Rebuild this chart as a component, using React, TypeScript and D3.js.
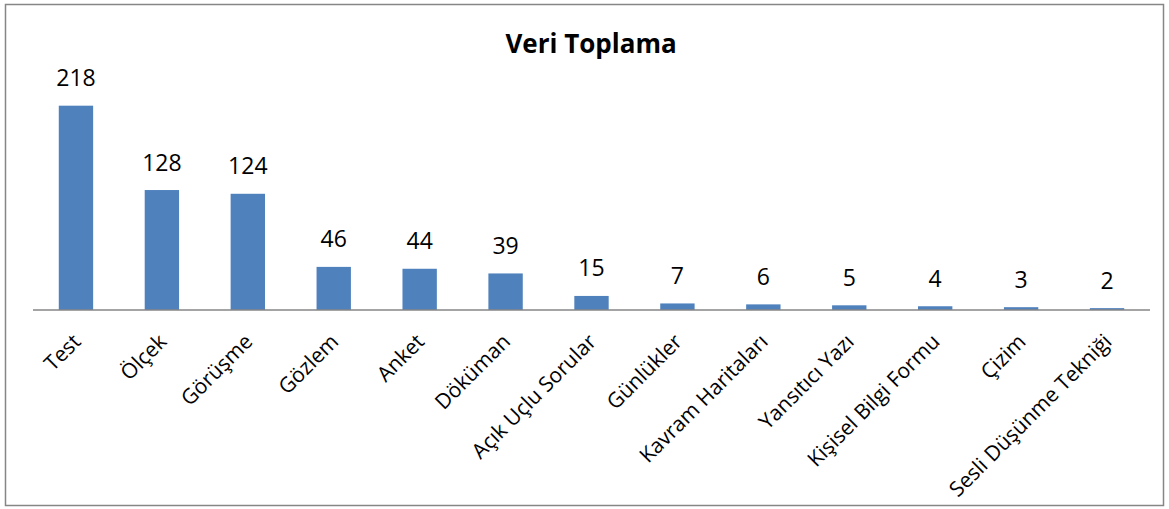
import React, { useEffect, useRef } from "react";
import * as d3 from "d3";

const categories = [
  "Test",
  "Ölçek",
  "Görüşme",
  "Gözlem",
  "Anket",
  "Döküman",
  "Açık Uçlu Sorular",
  "Günlükler",
  "Kavram Haritaları",
  "Yansıtıcı Yazı",
  "Kişisel Bilgi Formu",
  "Çizim",
  "Sesli Düşünme Tekniği",
];
const values = [218, 128, 124, 46, 44, 39, 15, 7, 6, 5, 4, 3, 2];
const title = "Veri Toplama";

const W = 1169;
const H = 509;
const FONT = "'Open Sans', 'DejaVu Sans', sans-serif";

export default function App() {
  const ref = useRef<SVGSVGElement>(null);

  useEffect(() => {
    const svg = d3.select(ref.current);
    svg.selectAll("*").remove();

    const plot = { left: 33, right: 1150, top: 75.7, bottom: 310 };

    const x = d3
      .scaleBand()
      .domain(categories)
      .range([plot.left, plot.right])
      .padding(0);
    const y = d3.scaleLinear().domain([0, 250]).range([plot.bottom, plot.top]);
    const barW = x.bandwidth() * 0.4;

    // chart border
    svg
      .append("rect")
      .attr("x", 5.5)
      .attr("y", 4.5)
      .attr("width", 1158)
      .attr("height", 501)
      .attr("fill", "#fff")
      .attr("stroke", "#868686")
      .attr("stroke-width", 1.5);

    svg
      .append("text")
      .attr("x", 591)
      .attr("y", 53)
      .attr("text-anchor", "middle")
      .style("font-family", FONT)
      .style("font-weight", "bold")
      .style("font-size", "26px")
      .text(title);

    svg
      .append("g")
      .selectAll("rect")
      .data(values)
      .join("rect")
      .attr("x", (d, i) => x(categories[i])! + x.bandwidth() / 2 - barW / 2)
      .attr("width", barW)
      .attr("y", (d) => y(d))
      .attr("height", (d) => y(0) - y(d))
      .attr("fill", "#4F81BD");

    svg
      .append("line")
      .attr("x1", plot.left)
      .attr("x2", plot.right)
      .attr("y1", y(0))
      .attr("y2", y(0))
      .attr("stroke", "#868686")
      .attr("stroke-width", 1.5);

    svg
      .append("g")
      .selectAll("text")
      .data(values)
      .join("text")
      .attr("x", (d, i) => x(categories[i])! + x.bandwidth() / 2)
      .attr("y", (d) => y(d) - 19.5)
      .attr("text-anchor", "middle")
      .style("font-family", FONT)
      .style("font-size", "23px")
      .text((d) => d);

    svg
      .append("g")
      .selectAll("text")
      .data(categories)
      .join("text")
      .attr(
        "transform",
        (d) =>
          "translate(" + (x(d)! + x.bandwidth() / 2 + 6) + "," + 343 + ") rotate(-45)"
      )
      .attr("text-anchor", "end")
      .style("font-family", FONT)
      .style("font-size", "21px")
      .text((d) => d);
  }, []);

  return (
    <svg
      ref={ref}
      width={W}
      height={H}
      style={{ position: "absolute", left: 0, top: 0, background: "#fff" }}
    />
  );
}
